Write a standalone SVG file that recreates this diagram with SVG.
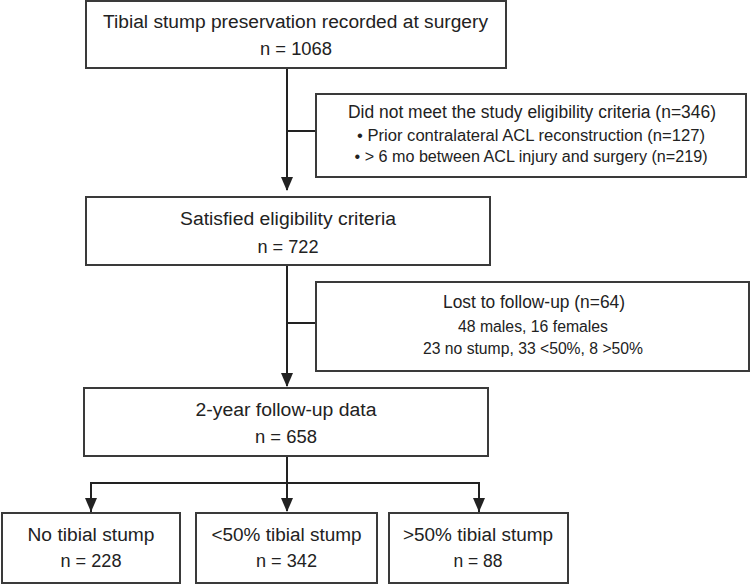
<svg xmlns="http://www.w3.org/2000/svg" width="751" height="585" viewBox="0 0 751 585">
<defs>
<style>
.box{fill:#fff;stroke:#3a3a3a;stroke-width:2}
.t{font-family:"Liberation Sans",Arial,sans-serif;font-size:18px;fill:#222;text-anchor:middle}
.s{font-size:16px}
.c{fill:none;stroke:#222;stroke-width:2}
</style>
<marker id="ah" viewBox="0 0 14 12" refX="13" refY="6" markerWidth="14" markerHeight="12" markerUnits="userSpaceOnUse" orient="auto">
<path d="M0,0 L14,6 L0,12 Z" fill="#222"/>
</marker>
</defs>
<rect width="751" height="585" fill="#fff"/>
<g id="connectors">
<line class="c" x1="287" y1="68" x2="287" y2="190" marker-end="url(#ah)"/>
<line class="c" x1="287" y1="131" x2="316" y2="131"/>
<line class="c" x1="287" y1="265" x2="287" y2="386" marker-end="url(#ah)"/>
<line class="c" x1="287" y1="323" x2="316" y2="323"/>
<line class="c" x1="287" y1="456" x2="287" y2="483"/>
<polyline class="c" points="91,512 91,483 479,483 479,512"/>
<line class="c" x1="91" y1="483" x2="91" y2="511" marker-end="url(#ah)"/>
<line class="c" x1="287" y1="483" x2="287" y2="511" marker-end="url(#ah)"/>
<line class="c" x1="479" y1="483" x2="479" y2="511" marker-end="url(#ah)"/>
</g>
<g id="n1">
<rect class="box" x="86" y="1" width="420" height="67"/>
<text class="t" x="295.5" y="28" textLength="385" lengthAdjust="spacingAndGlyphs">Tibial stump preservation recorded at surgery</text>
<text class="t" x="296" y="55" textLength="72" lengthAdjust="spacingAndGlyphs">n = 1068</text>
</g>
<g id="n2">
<rect class="box" x="316" y="94" width="430" height="83"/>
<text class="t" x="532" y="118" textLength="368" lengthAdjust="spacingAndGlyphs">Did not meet the study eligibility criteria (n=346)</text>
<text class="t s" x="531" y="141" textLength="348" lengthAdjust="spacingAndGlyphs">• Prior contralateral ACL reconstruction (n=127)</text>
<text class="t s" x="531" y="162" textLength="353" lengthAdjust="spacingAndGlyphs">• &gt; 6 mo between ACL injury and surgery (n=219)</text>
</g>
<g id="n3">
<rect class="box" x="86" y="197" width="404" height="68"/>
<text class="t" x="288" y="225" textLength="216" lengthAdjust="spacingAndGlyphs">Satisfied eligibility criteria</text>
<text class="t" x="288" y="253" textLength="61" lengthAdjust="spacingAndGlyphs">n = 722</text>
</g>
<g id="n4">
<rect class="box" x="316" y="282" width="433" height="89"/>
<text class="t" x="534" y="308" textLength="182" lengthAdjust="spacingAndGlyphs">Lost to follow-up (n=64)</text>
<text class="t s" x="533" y="332" textLength="150" lengthAdjust="spacingAndGlyphs">48 males, 16 females</text>
<text class="t s" x="533" y="354" textLength="220" lengthAdjust="spacingAndGlyphs">23 no stump, 33 &lt;50%, 8 &gt;50%</text>
</g>
<g id="n5">
<rect class="box" x="84" y="388" width="404" height="68"/>
<text class="t" x="286" y="416" textLength="181" lengthAdjust="spacingAndGlyphs">2-year follow-up data</text>
<text class="t" x="286" y="443" textLength="62" lengthAdjust="spacingAndGlyphs">n = 658</text>
</g>
<g id="n6">
<rect class="box" x="2" y="513" width="178" height="70"/>
<text class="t" x="91" y="541" textLength="127" lengthAdjust="spacingAndGlyphs">No tibial stump</text>
<text class="t" x="91" y="567" textLength="61" lengthAdjust="spacingAndGlyphs">n = 228</text>
</g>
<g id="n7">
<rect class="box" x="196" y="513" width="181" height="70"/>
<text class="t" x="286.5" y="541" textLength="150" lengthAdjust="spacingAndGlyphs">&lt;50% tibial stump</text>
<text class="t" x="286.5" y="567" textLength="61" lengthAdjust="spacingAndGlyphs">n = 342</text>
</g>
<g id="n8">
<rect class="box" x="389" y="513" width="179" height="70"/>
<text class="t" x="478" y="541" textLength="150" lengthAdjust="spacingAndGlyphs">&gt;50% tibial stump</text>
<text class="t" x="478" y="567" textLength="49" lengthAdjust="spacingAndGlyphs">n = 88</text>
</g>
</svg>
